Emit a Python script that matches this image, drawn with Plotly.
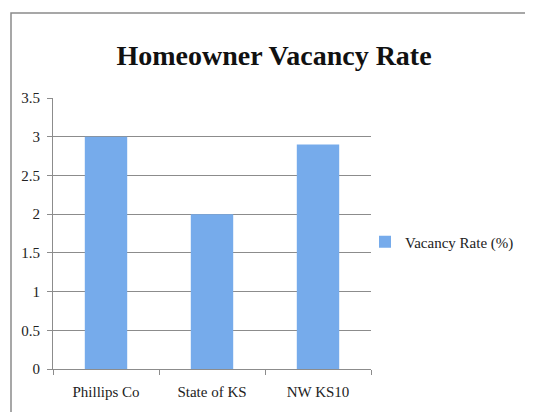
import plotly.graph_objects as go

categories = ["Phillips Co", "State of KS", "NW KS10"]
values = [3.0, 2.0, 2.9]
series_name = "Vacancy Rate (%)"
title_text = "Homeowner Vacancy Rate"
y_ticks = [0, 0.5, 1, 1.5, 2, 2.5, 3, 3.5]
y_ticklabels = ["0", "0.5", "1", "1.5", "2", "2.5", "3", "3.5"]

FONT = "Liberation Serif"

# page body has an 8px margin: work in reference coords, then shift by OFF
OFF = 8
W, H = 533 - OFF, 412 - OFF
L, R, T, B = 53 - OFF, 371 - OFF, 98 - OFF, 369 - OFF

fig = go.Figure()
fig.add_trace(go.Bar(
    x=categories, y=values, name=series_name,
    marker=dict(color="#76abeb", line=dict(width=0)),
    showlegend=True,
))

fig.update_layout(
    width=W, height=H,
    margin=dict(l=L, r=W - R, t=T, b=H - B, pad=0),
    paper_bgcolor="white", plot_bgcolor="white",
    bargap=0.6,
    font=dict(family=FONT, size=15, color="#222"),
    title=dict(text="<b>" + title_text + "</b>", x=(274 - OFF) / W, xanchor="center",
               y=1 - (55 - OFF) / H, yanchor="middle",
               font=dict(family=FONT, size=28, color="#111")),
    showlegend=True,
    legend=dict(x=(365 - OFF - L) / (R - L), y=(B - (242 - OFF)) / (B - T),
                xanchor="left", yanchor="middle",
                font=dict(family=FONT, size=15, color="#222"),
                bgcolor="rgba(0,0,0,0)", itemwidth=30),
    xaxis=dict(showgrid=False, showline=True, linecolor="#8c8c8c", linewidth=1,
               ticks="outside", tickson="boundaries", ticklen=5, tickcolor="#8c8c8c",
               ticklabelstandoff=9,
               tickfont=dict(family=FONT, size=15, color="#222")),
    yaxis=dict(range=[0, 3.5], tickvals=y_ticks, ticktext=y_ticklabels,
               showgrid=True, gridcolor="#8c8c8c", gridwidth=1,
               showline=True, linecolor="#8c8c8c", linewidth=1,
               ticks="outside", ticklen=5, tickcolor="#8c8c8c",
               ticklabelstandoff=4, zeroline=False,
               tickfont=dict(family=FONT, size=15, color="#222")),
)

# outer chart border
fig.add_shape(type="rect", xref="paper", yref="paper",
              x0=(11 - OFF - L) / (R - L), x1=(560 - L) / (R - L),
              y0=(B - 430) / (B - T), y1=(B - (13 - OFF)) / (B - T),
              line=dict(color="#8a8a8a", width=1.5), fillcolor="rgba(0,0,0,0)", layer="below")

fig.write_html("out.html")
